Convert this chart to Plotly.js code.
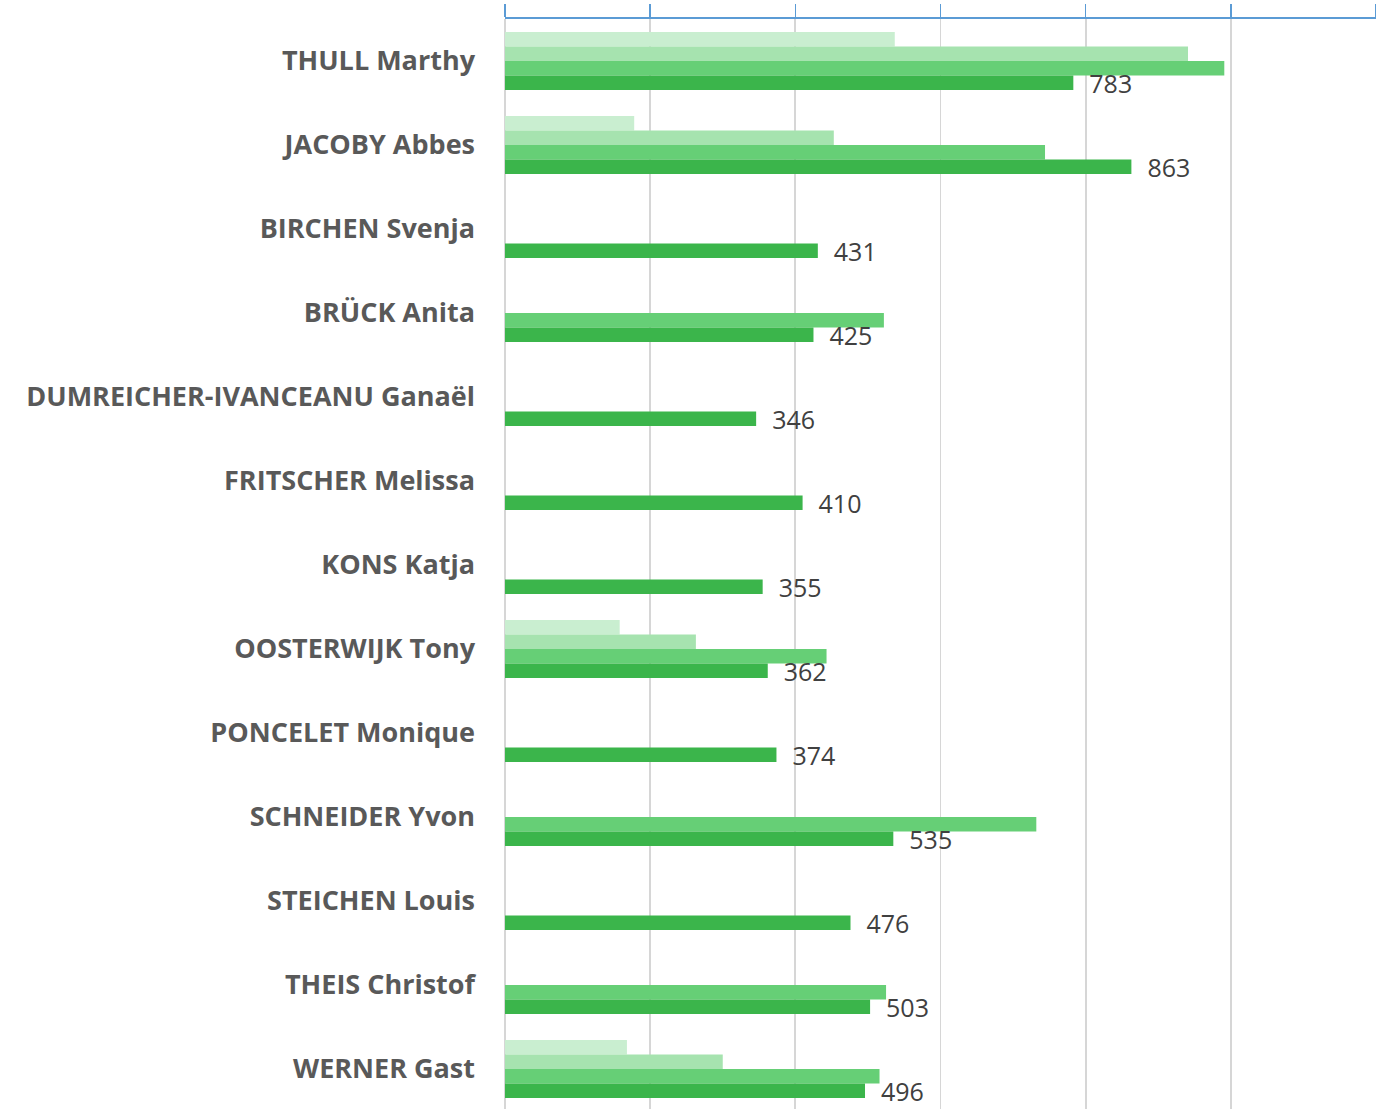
<!DOCTYPE html>
<html>
<head>
<meta charset="utf-8">
<script src="https://cdn.plot.ly/plotly-3.0.1.min.js"></script>
<style>
html,body{margin:0;padding:0;background:#fff;overflow:hidden;}
#chart{width:1376px;height:1109px;}
</style>
</head>
<body>
<div id="chart"></div>
<script>
var names = [
  "THULL Marthy", "JACOBY Abbes", "BIRCHEN Svenja", "BRÜCK Anita",
  "DUMREICHER-IVANCEANU Ganaël", "FRITSCHER Melissa", "KONS Katja",
  "OOSTERWIJK Tony", "PONCELET Monique", "SCHNEIDER Yvon",
  "STEICHEN Louis", "THEIS Christof", "WERNER Gast"
];
var series1 = [537, 178, null, null, null, null, null, 158, null, null, null, null, 168];
var series2 = [941, 453, null, null, null, null, null, 263, null, null, null, null, 300];
var series3 = [991, 744, null, 522, null, null, null, 443, null, 732, null, 525, 516];
var series4 = [783, 863, 431, 425, 346, 410, 355, 362, 374, 535, 476, 503, 496];

var colors = ["#c9eed0", "#a6e3af", "#66cf76", "#3bb54b"];
var allSeries = [series1, series2, series3, series4];

var traces = allSeries.map(function (vals, i) {
  var t = {
    type: "bar",
    orientation: "h",
    y: names,
    x: vals,
    marker: {color: colors[i]},
    hoverinfo: "x+y",
    cliponaxis: false
  };
  if (i === 3) {
    t.text = vals.map(function (v) { return "\u00a0\u00a0" + v; });
    t.textposition = "outside";
    t.constraintext = "none";
    t.textfont = {family: "Open Sans, sans-serif", size: 25, color: "#404040"};
  }
  return t;
});

var layout = {
  width: 1376,
  height: 1109,
  margin: {l: 505, r: 0, t: 19, b: 0},
  paper_bgcolor: "#ffffff",
  plot_bgcolor: "#ffffff",
  showlegend: false,
  barmode: "group",
  bargap: 0.31,
  bargroupgap: 0,
  xaxis: {
    side: "top",
    range: [0, 1200],
    tick0: 0,
    dtick: 200,
    showticklabels: false,
    ticks: "outside",
    ticklen: 13,
    tickwidth: 1.5,
    tickcolor: "#5b9bd5",
    showline: true,
    linecolor: "#5b9bd5",
    linewidth: 2,
    showgrid: true,
    gridcolor: "#d6d6d6",
    gridwidth: 1.8,
    zeroline: true,
    zerolinecolor: "#d6d6d6",
    zerolinewidth: 1.8,
    fixedrange: true
  },
  yaxis: {
    type: "category",
    range: [12.476, -0.5],
    autorange: false,
    showgrid: false,
    zeroline: false,
    showline: false,
    ticks: "",
    ticklabelstandoff: 29,
    tickfont: {family: "Open Sans, sans-serif", size: 27, color: "#595959", weight: "bold"},
    fixedrange: true
  }
};

Plotly.newPlot("chart", traces, layout, {displayModeBar: false, staticPlot: true});
</script>
</body>
</html>
